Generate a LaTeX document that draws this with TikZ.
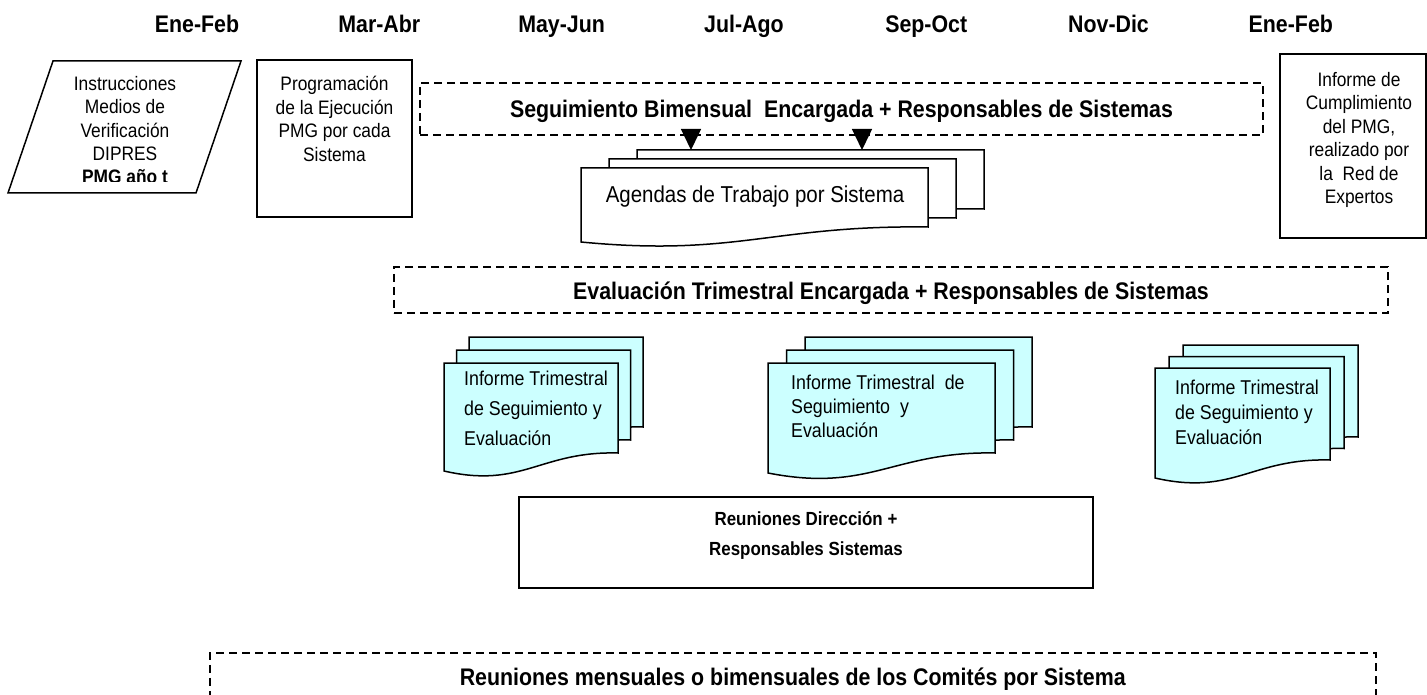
\documentclass[tikz,border=0pt]{standalone}
\usepackage{fontspec}
\setmainfont{Liberation Sans}[FakeStretch=0.89]
\usetikzlibrary{arrows.meta,positioning}

\definecolor{infocyan}{HTML}{CCFFFF}

\begin{document}
\begin{tikzpicture}[
    x=1pt, y=-1pt,
    month/.style={
        font=\fontsize{24}{28}\selectfont\bfseries,
        inner sep=0pt,
        anchor=base
    },
    plaintext/.style={
        font=\fontsize{19.5}{23.4}\selectfont,
        inner sep=0pt,
        align=center
    },
    frame/.style={
        draw,
        line width=1.5pt,
        inner sep=0pt
    },
    dashbox/.style={
        draw,
        dash pattern=on 8pt off 5pt,
        line width=1.5pt,
        font=\fontsize{24}{28}\selectfont\bfseries,
        text height=18pt,
        text depth=0pt
    },
    sheetline/.style={
        draw,
        line width=1.5pt
    },
    infotext/.style={
        font=\fontsize{20}{24}\selectfont,
        inner sep=0pt,
        align=left,
        anchor=north west
    },
    arrow/.style={
        -{Triangle[length=21pt,width=20pt]},
        line width=1.5pt
    },
    pics/docstack/.style n args={6}{code={
        % width, right height, wave, dx, dy, fill
        \foreach \k in {2,1,0}
            \draw[sheetline, fill=#6] (\k*#4,-\k*#5) -- ++(#1,0) -- ++(0,#2)
                .. controls +(-0.45*#1,-2) and +(0.45*#1,#3) .. ++(-#1,#3)
                -- cycle;
    }}
]

\clip (0,0) rectangle (1427,695);

% ------------------------------------------------------------------
% Months
% ------------------------------------------------------------------

\foreach \m [count=\i] in {Ene-Feb,Mar-Abr,May-Jun,Jul-Ago,Sep-Oct,Nov-Dic,Ene-Feb}
    \node[month] (month\i) at ({197+182.3*(\i-1)},33) {\m};

% ------------------------------------------------------------------
% Start and end of the year
% ------------------------------------------------------------------

\draw[line width=1.5pt] (53,61) coordinate (instrtl) -- (241,61)
    -- (196,193) -- (8,193) -- cycle;

\begin{scope}
    \clip (0,55) rectangle (260,182);
    \node[plaintext, anchor=north] (instr) at (125,76)
        {Instrucciones\\Medios de\\Verificación\\DIPRES\\\textbf{PMG año t}};
\end{scope}

\node[frame, minimum width=155pt, minimum height=157pt] (progbox)
    at (334.5,138.5) {};
\node[plaintext, below=17pt of progbox.north] (progtext)
    {Programación\\de la Ejecución\\PMG por cada\\Sistema};

\node[frame, minimum width=146pt, minimum height=184pt] (cumplbox)
    at (1353,146) {};
\node[plaintext, below=19pt of cumplbox.north, xshift=6pt] (cumpltext)
    {Informe de\\Cumplimiento\\del PMG,\\realizado por\\la \ Red de\\Expertos};

% ------------------------------------------------------------------
% Bimonthly follow-up
% ------------------------------------------------------------------

\node[dashbox, minimum width=843pt, minimum height=52pt] (seg)
    at (841.5,109)
    {Seguimiento Bimensual \ Encargada + Responsables de Sistemas};

\pic at (581,168) {docstack={347}{59}{15}{28}{9}{white}};
\node[plaintext, font=\fontsize{23}{27}\selectfont, anchor=base] (agendas)
    at (755,203) {Agendas de Trabajo por Sistema};

\coordinate (agendaA) at (691,150);
\coordinate (agendaB) at (862,150);

\draw[arrow] (seg.south -| agendaA) -- (agendaA);
\draw[arrow] (seg.south -| agendaB) -- (agendaB);

% ------------------------------------------------------------------
% Quarterly evaluation
% ------------------------------------------------------------------

\node[dashbox, minimum width=994pt, minimum height=46pt] (eva)
    at (891,290)
    {Evaluación Trimestral Encargada + Responsables de Sistemas};

\pic at (444,363) {docstack={174}{90}{18}{12.5}{13}{infocyan}};
\node[infotext] (infoA) at (464,371)
    {Informe Trimestral\\[5.5pt]de Seguimiento y\\[6pt]Evaluación};

\pic at (768,363) {docstack={227}{90}{20}{18.5}{13}{infocyan}};
\node[infotext] (infoB) at (791,375)
    {Informe Trimestral \ de\\Seguimiento \ y\\Evaluación};

\pic at (1155,368) {docstack={175}{92}{18}{14}{11.5}{infocyan}};
\node[infotext, font=\fontsize{20}{25}\selectfont] (infoC) at (1175,380)
    {Informe Trimestral\\de Seguimiento y\\Evaluación};

% ------------------------------------------------------------------
% Meetings
% ------------------------------------------------------------------

\node[frame, minimum width=574pt, minimum height=91pt] (direccion)
    at (806,542.5) {};
\node[plaintext, font=\fontsize{19}{30}\selectfont\bfseries,
    below=15pt of direccion.north] (direcciontext)
    {Reuniones Dirección +\\Responsables Sistemas};

\node[dashbox, anchor=north west, minimum width=1166pt, minimum height=48pt]
    (comites) at (209,652)
    {Reuniones mensuales o bimensuales de los Comités por Sistema};

\end{tikzpicture}
\end{document}
